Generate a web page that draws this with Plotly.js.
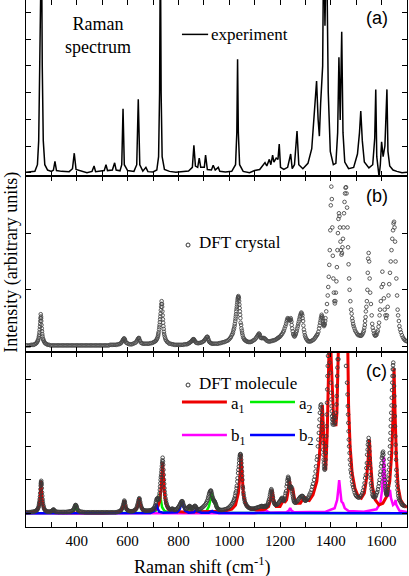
<!DOCTYPE html>
<html>
<head>
<meta charset="utf-8">
<script src="https://cdn.plot.ly/plotly-3.0.1.min.js"></script>
<style>
  html, body { margin: 0; padding: 0; background: #fff; }
  #chart { width: 409px; height: 576px; }
</style>
</head>
<body>
<div id="chart"></div>
<script>
// x axis ticks (Raman shift, cm-1)
const shiftTicks = [400, 600, 800, 1000, 1200, 1400, 1600];
const shiftLabels = ['400', '600', '800', '1000', '1200', '1400', '1600'];

// (a) experimental Raman spectrum
const expShift = [200, 215, 235, 245, 250, 254, 257, 261, 264, 268, 274, 285, 300, 308, 314, 320, 340, 370, 383, 390, 397, 420, 440, 460, 468, 474, 495, 508, 515, 521, 540, 549, 555, 570, 577, 582, 587, 600, 625, 636, 642, 648, 660, 672, 680, 700, 715, 722, 726, 729, 732, 736, 745, 765, 790, 820, 840, 855, 861, 867, 876, 882, 888, 902, 907, 914, 930, 937, 945, 957, 963, 985, 1010, 1025, 1030, 1033, 1036, 1041, 1055, 1080, 1100, 1120, 1135, 1141, 1148, 1158, 1164, 1171, 1176, 1185, 1192, 1197, 1202, 1215, 1230, 1242, 1248, 1257, 1267, 1274, 1290, 1310, 1325, 1336, 1344, 1350, 1355, 1360, 1364, 1368, 1372, 1377, 1383, 1390, 1398, 1410, 1420, 1427, 1432, 1437, 1443, 1448, 1455, 1470, 1490, 1505, 1513, 1518, 1524, 1532, 1550, 1565, 1573, 1577, 1581, 1590, 1595, 1600, 1606, 1613, 1621, 1625, 1632, 1645, 1660, 1680, 1700];
const expIntensity = [0.02, 0.03, 0.05, 0.3, 1.2, 4, 9, 9, 4, 1.2, 0.3, 0.1, 0.05, 0.1, 0.42, 0.08, 0.05, 0.04, 0.15, 0.73, 0.12, 0.05, 0, 0.05, 0.25, 0.04, 0.05, 0.08, 0.3, 0.08, 0.1, 0.37, 0.1, 0.07, 0.3, 2.39, 0.3, 0.08, 0.05, 0.3, 2.75, 0.3, 0.06, 0.2, 0.04, 0.03, 0.1, 0.6, 3, 9, 3, 0.6, 0.12, 0.05, 0.02, 0.05, 0.06, 0.2, 1.03, 0.25, 0.2, 0.55, 0.2, 0.2, 0.66, 0.12, 0.1, 0.28, 0.1, 0.2, 0.05, 0.03, 0.05, 0.3, 1.5, 4.25, 1.5, 0.3, 0.05, 0, 0.08, 0.12, 0.3, 0.38, 0.25, 0.5, 0.3, 0.66, 0.4, 0.55, 0.5, 1.07, 0.2, 0.12, 0.2, 0.7, 0.15, 0.3, 1.56, 0.3, 0.15, 0.35, 0.9, 2.2, 3.43, 2.0, 1.37, 2.6, 3.3, 4, 9, 5.5, 9, 3, 0.8, 0.3, 0.35, 1.5, 4.32, 1.97, 5.28, 1.5, 0.4, 0.15, 0.2, 0.7, 1.5, 2.31, 1.2, 0.4, 0.18, 0.3, 1.3, 3.12, 0.6, -0.15, 0.3, 1.16, 0.6, 1.0, 3.12, 0.8, 0.25, 0.1, 0.05, 0, 0.02];

// (b) DFT crystal
const crystalShift = [200, 205, 210, 215, 220, 225, 230, 234, 238, 241, 244, 246, 248, 250, 251, 252, 253, 254, 255, 256, 256.5, 257, 258, 259, 259.5, 260, 261, 262, 263, 264, 265, 267, 268, 270, 272, 275, 278, 282, 286, 291, 296, 301, 306, 311, 316, 321, 326, 331, 336, 341, 346, 351, 356, 361, 366, 371, 376, 381, 386, 391, 396, 401, 406, 411, 416, 421, 426, 431, 436, 441, 446, 451, 456, 461, 466, 471, 476, 481, 486, 491, 496, 501, 506, 511, 516, 521, 526, 531, 536, 541, 546, 551, 556, 561, 566, 570, 574, 577, 580, 582, 584, 586, 588, 589, 591, 594, 598, 602, 607, 612, 617, 622, 627, 632, 635, 638, 640, 642, 644, 645, 647, 649, 652, 656, 660, 665, 670, 675, 680, 685, 690, 695, 700, 704, 708, 711, 714, 716, 718, 720, 721, 722, 724, 725, 726, 727, 728, 729, 730, 731, 732, 733, 734, 735.5, 736, 737, 738, 739, 740, 741, 742, 743, 744, 746, 748, 750, 753, 756, 760, 764, 769, 774, 779, 784, 789, 794, 799, 804, 809, 814, 819, 824, 829, 834, 838, 842, 845, 848, 851, 853, 855, 856, 858, 859, 861, 862, 864, 866, 869, 872, 876, 880, 885, 890, 894, 898, 901, 904, 906, 908, 910, 912, 914, 915, 917, 918, 920, 922, 925, 928, 932, 936, 941, 946, 951, 956, 961, 966, 971, 976, 981, 986, 991, 996, 1000, 1004, 1007, 1010, 1013, 1015, 1017, 1019, 1021, 1022, 1024, 1025, 1026, 1027, 1028, 1029, 1030, 1031, 1032, 1033, 1034, 1035, 1036, 1037, 1038, 1039, 1040, 1041, 1042, 1043, 1044, 1045, 1047, 1048, 1050, 1051, 1053, 1055, 1058, 1060, 1063, 1066, 1069, 1072, 1076, 1080, 1084, 1088, 1092, 1096, 1100, 1104, 1107, 1110, 1113, 1115, 1117, 1119, 1121, 1123, 1126, 1128, 1131, 1134, 1137, 1140, 1143, 1146, 1150, 1154, 1158, 1162, 1166, 1170, 1174, 1178, 1182, 1186, 1189, 1192, 1195, 1198, 1201, 1204, 1208, 1212, 1215, 1218, 1221, 1224, 1226, 1228, 1230, 1232, 1234, 1236, 1238, 1240, 1242, 1243, 1245, 1246, 1248, 1250, 1252, 1254, 1256, 1258, 1260, 1262, 1264, 1266, 1268, 1270, 1272, 1274, 1276, 1278, 1280, 1282, 1284, 1286, 1288, 1289, 1291, 1292, 1294, 1296, 1298, 1300, 1303, 1306, 1309, 1312, 1316, 1320, 1324, 1328, 1332, 1336, 1339, 1342, 1345, 1348, 1351, 1354, 1356, 1358, 1360, 1361, 1363, 1364, 1366, 1367, 1369, 1370, 1372, 1373, 1375, 1376, 1378, 1379, 1382, 1385, 1388, 1390, 1392, 1394, 1396, 1398, 1400, 1402, 1404, 1406, 1408, 1410, 1412, 1414, 1416, 1418, 1420, 1422, 1424, 1426, 1428, 1430, 1432, 1434, 1436, 1438, 1440, 1442, 1444, 1446, 1448, 1450, 1452, 1454, 1456, 1458, 1460, 1462, 1464, 1466, 1468, 1470, 1472, 1474, 1477, 1480, 1482, 1484, 1486, 1488, 1490, 1493, 1496, 1500, 1504, 1508, 1512, 1516, 1519, 1522, 1525, 1528, 1530, 1532, 1534, 1535, 1537, 1538, 1540, 1542, 1544, 1545.5, 1547, 1549, 1551, 1553, 1555, 1558, 1561, 1563, 1565, 1568, 1570, 1573, 1575, 1578, 1580, 1583, 1585, 1588, 1590, 1592, 1594, 1597, 1600, 1603, 1606, 1609, 1612, 1615, 1618, 1621, 1624, 1627, 1630, 1633, 1636, 1639, 1642, 1645, 1647, 1649, 1651, 1653, 1655, 1658, 1661, 1663, 1665, 1668, 1670, 1673, 1676, 1680, 1684, 1688, 1692, 1696, 1700];
const crystalIntensity = [0.02, 0.02, 0.02, 0.02, 0.03, 0.03, 0.03, 0.04, 0.05, 0.06, 0.08, 0.1, 0.12, 0.15, 0.18, 0.21, 0.25, 0.3, 0.35, 0.4, 0.45, 0.5, 0.57, 0.53, 0.5, 0.45, 0.38, 0.32, 0.27, 0.22, 0.18, 0.14, 0.12, 0.1, 0.08, 0.06, 0.05, 0.04, 0.03, 0.03, 0.02, 0.02, 0.02, 0.02, 0.02, 0.02, 0.02, 0.02, 0.02, 0.02, 0.02, 0.02, 0.02, 0.02, 0.02, 0.02, 0.02, 0.02, 0.02, 0.02, 0.02, 0.02, 0.02, 0.02, 0.02, 0.02, 0.02, 0.02, 0.02, 0.02, 0.02, 0.02, 0.02, 0.02, 0.02, 0.02, 0.02, 0.02, 0.02, 0.02, 0.02, 0.02, 0.02, 0.02, 0.02, 0.02, 0.02, 0.03, 0.03, 0.03, 0.03, 0.03, 0.03, 0.04, 0.04, 0.05, 0.06, 0.08, 0.1, 0.12, 0.13, 0.145, 0.135, 0.12, 0.1, 0.07, 0.06, 0.05, 0.04, 0.04, 0.04, 0.05, 0.06, 0.07, 0.09, 0.11, 0.13, 0.14, 0.15, 0.15, 0.12, 0.1, 0.07, 0.06, 0.05, 0.05, 0.05, 0.05, 0.05, 0.05, 0.06, 0.06, 0.07, 0.08, 0.09, 0.1, 0.12, 0.14, 0.16, 0.19, 0.22, 0.25, 0.3, 0.34, 0.38, 0.43, 0.48, 0.53, 0.58, 0.64, 0.7, 0.75, 0.8, 0.75, 0.7, 0.62, 0.55, 0.48, 0.42, 0.36, 0.31, 0.26, 0.22, 0.18, 0.15, 0.12, 0.1, 0.08, 0.07, 0.05, 0.05, 0.04, 0.04, 0.03, 0.03, 0.03, 0.03, 0.03, 0.03, 0.03, 0.03, 0.04, 0.04, 0.04, 0.05, 0.06, 0.07, 0.08, 0.09, 0.1, 0.11, 0.12, 0.125, 0.13, 0.125, 0.12, 0.1, 0.09, 0.07, 0.065, 0.06, 0.06, 0.065, 0.07, 0.08, 0.09, 0.1, 0.12, 0.13, 0.14, 0.155, 0.17, 0.17, 0.17, 0.14, 0.12, 0.1, 0.08, 0.07, 0.06, 0.05, 0.05, 0.05, 0.05, 0.05, 0.05, 0.06, 0.06, 0.07, 0.075, 0.08, 0.09, 0.1, 0.11, 0.13, 0.15, 0.17, 0.2, 0.22, 0.25, 0.29, 0.32, 0.36, 0.4, 0.45, 0.49, 0.53, 0.57, 0.62, 0.66, 0.7, 0.74, 0.78, 0.82, 0.85, 0.87, 0.89, 0.87, 0.85, 0.8, 0.74, 0.68, 0.62, 0.56, 0.5, 0.42, 0.38, 0.32, 0.28, 0.24, 0.2, 0.16, 0.14, 0.12, 0.11, 0.1, 0.09, 0.085, 0.08, 0.08, 0.08, 0.085, 0.1, 0.11, 0.12, 0.14, 0.16, 0.18, 0.2, 0.21, 0.23, 0.22, 0.2, 0.16, 0.15, 0.15, 0.15, 0.15, 0.15, 0.14, 0.13, 0.11, 0.1, 0.09, 0.09, 0.09, 0.1, 0.1, 0.11, 0.11, 0.12, 0.13, 0.14, 0.15, 0.16, 0.17, 0.18, 0.2, 0.22, 0.25, 0.28, 0.32, 0.36, 0.4, 0.44, 0.47, 0.5, 0.49, 0.48, 0.47, 0.46, 0.48, 0.5, 0.47, 0.44, 0.38, 0.32, 0.27, 0.22, 0.2, 0.18, 0.18, 0.2, 0.22, 0.25, 0.28, 0.32, 0.36, 0.4, 0.44, 0.48, 0.52, 0.55, 0.58, 0.6, 0.58, 0.55, 0.5, 0.45, 0.37, 0.3, 0.25, 0.2, 0.17, 0.14, 0.12, 0.1, 0.09, 0.09, 0.09, 0.1, 0.11, 0.12, 0.14, 0.16, 0.18, 0.2, 0.22, 0.26, 0.32, 0.37, 0.42, 0.46, 0.5, 0.53, 0.56, 0.53, 0.5, 0.45, 0.4, 0.38, 0.36, 0.38, 0.4, 0.45, 0.5, 0.62, 0.75, 0.9, 1.05, 1.23, 1.44, 1.7, 2.05, 2.49, 2.82, 2.6, 2.1, 1.6, 1.2, 0.95, 0.8, 0.76, 0.8, 0.95, 1.15, 1.4, 1.7, 2.0, 2.25, 2.35, 2.3, 2.1, 1.85, 1.7, 1.62, 1.65, 1.75, 1.9, 2.1, 2.35, 2.55, 2.7, 2.8, 2.81, 2.7, 2.45, 2.1, 1.75, 1.45, 1.2, 1.0, 0.8, 0.65, 0.58, 0.5, 0.45, 0.4, 0.36, 0.32, 0.28, 0.25, 0.22, 0.2, 0.2, 0.19, 0.19, 0.2, 0.22, 0.25, 0.28, 0.33, 0.38, 0.45, 0.52, 0.62, 0.7, 0.8, 1.0, 1.3, 1.55, 1.65, 1.5, 1.2, 0.95, 0.75, 0.55, 0.4, 0.33, 0.28, 0.23, 0.2, 0.19, 0.2, 0.21, 0.25, 0.28, 0.35, 0.42, 0.55, 0.65, 0.8, 1.05, 1.32, 1.1, 0.85, 0.65, 0.55, 0.5, 0.55, 0.7, 0.9, 1.1, 1.3, 1.5, 1.7, 1.9, 2.05, 2.17, 2.2, 2.1, 1.85, 1.5, 1.2, 0.9, 0.65, 0.55, 0.45, 0.36, 0.3, 0.25, 0.2, 0.16, 0.13, 0.11, 0.1, 0.09, 0.08];

// (c) DFT molecule (total)
const moleculeShift = [200, 205, 210, 215, 220, 225, 230, 234, 238, 241, 244, 246, 248, 250, 251, 252, 253, 254, 255, 256, 257, 258, 258.5, 259, 260, 261, 261.5, 262, 263, 264, 265, 266, 267, 269, 270, 272, 274, 277, 280, 284, 288, 292, 296, 299, 302, 304, 306, 308, 309, 311, 312, 315, 318, 323, 328, 333, 338, 343, 348, 353, 358, 363, 368, 372, 376, 380, 384, 387, 389, 391, 392, 394, 395, 397, 398, 400, 401, 403, 406, 410, 414, 419, 424, 429, 434, 439, 444, 449, 454, 459, 464, 469, 474, 479, 484, 489, 494, 499, 504, 509, 514, 519, 524, 529, 534, 539, 544, 549, 554, 559, 564, 568, 572, 575, 578, 580, 582, 584, 585, 586, 587, 588, 589, 591, 592, 594, 596, 599, 602, 606, 610, 614, 618, 622, 626, 629, 632, 635, 637, 639, 640, 642, 643, 645, 646, 647, 649, 650, 652, 654, 656, 659, 662, 666, 670, 674, 678, 682, 686, 690, 694, 697, 700, 703, 705, 707, 709, 711, 712, 714, 715, 717, 718, 720, 721, 723, 724, 726, 727, 728, 729, 730, 731, 732, 733, 734, 735, 736, 737, 738, 739, 740, 741, 742, 743, 744, 745, 746, 748, 749, 751, 752, 754, 756, 759, 762, 765, 768, 771, 774, 776, 778, 781, 784, 787, 790, 793, 796, 799, 802, 804, 806, 808, 810, 812, 813, 815, 816, 818, 819, 821, 823, 826, 828, 831, 834, 837, 840, 842, 844, 846, 847, 849, 850, 853, 855, 858, 860, 862, 864, 866, 868, 870, 871, 873, 875, 878, 882, 886, 890, 894, 898, 902, 906, 909, 912, 915, 917, 919, 921, 923, 925, 926, 928, 929, 931, 932, 934, 935, 937, 938, 940, 941, 943, 944, 946, 948, 949, 951, 953, 955, 958, 961, 965, 969, 974, 979, 984, 989, 994, 998, 1002, 1006, 1010, 1013, 1016, 1019, 1021, 1023, 1025, 1027, 1029, 1030, 1032, 1033, 1035, 1036, 1038, 1039, 1040, 1041, 1042, 1043, 1044, 1045, 1046, 1047, 1048, 1049, 1050, 1051, 1052, 1053, 1054, 1056, 1057, 1059, 1060, 1062, 1064, 1067, 1069, 1072, 1075, 1078, 1082, 1086, 1090, 1094, 1098, 1102, 1106, 1110, 1114, 1118, 1122, 1125, 1128, 1130, 1132, 1134, 1136, 1138, 1140, 1142, 1144, 1146, 1148, 1150, 1152, 1154, 1156, 1158, 1160, 1161, 1163, 1164, 1166, 1167, 1169, 1170, 1172, 1173, 1175, 1177, 1179, 1181, 1184, 1187, 1190, 1193, 1196, 1199, 1202, 1204, 1206, 1208, 1210, 1212, 1213, 1215, 1216, 1218, 1220, 1222, 1224, 1226, 1228, 1229, 1231, 1232, 1234, 1235, 1236, 1237, 1238, 1239, 1240, 1242, 1243, 1245, 1246, 1248, 1249, 1251, 1252, 1254, 1255, 1257, 1259, 1261, 1264, 1267, 1270, 1273, 1276, 1279, 1282, 1285, 1287, 1289, 1291, 1293, 1295, 1297, 1298, 1300, 1302, 1305, 1307, 1310, 1313, 1316, 1320, 1324, 1327, 1330, 1334, 1337, 1340, 1342, 1345, 1347, 1349, 1351, 1353, 1354, 1356, 1357, 1359, 1360, 1362, 1363, 1365, 1366, 1367, 1368, 1369, 1370, 1371, 1372, 1373, 1374, 1375, 1376, 1377, 1378, 1379, 1380, 1381, 1382, 1383, 1384, 1385, 1386, 1387, 1388, 1389, 1390, 1391, 1392, 1393, 1395, 1398, 1400, 1401, 1402, 1403, 1404, 1405, 1406, 1407, 1408, 1409, 1410, 1412, 1414, 1416, 1418, 1420, 1422, 1423, 1424, 1425, 1426, 1427, 1428, 1429, 1430, 1432, 1436, 1438, 1444, 1452, 1460, 1464, 1466, 1467, 1468, 1469, 1470, 1471, 1472, 1474, 1475, 1477, 1478, 1480, 1482, 1484, 1486, 1488, 1491, 1494, 1497, 1500, 1504, 1508, 1512, 1516, 1520, 1524, 1527, 1530, 1533, 1535, 1538, 1540, 1542, 1543, 1545, 1546, 1548, 1549, 1550, 1551, 1552, 1553, 1554, 1555, 1556, 1557, 1558, 1560, 1561, 1563, 1564, 1566, 1568, 1571, 1573, 1576, 1578, 1581, 1583, 1586, 1588, 1590, 1592, 1594, 1596, 1598, 1600, 1601, 1603, 1604, 1606, 1607, 1608, 1609, 1610, 1611, 1612, 1613, 1614, 1615, 1616, 1617, 1618, 1619, 1620, 1621, 1622, 1623, 1624, 1625, 1626, 1627, 1628, 1629, 1630, 1631, 1632, 1633, 1634, 1635, 1636, 1637, 1638, 1639, 1640, 1641, 1642, 1643, 1644, 1645, 1646, 1647, 1648, 1649, 1650, 1651, 1652, 1653, 1654, 1655, 1656, 1657, 1658, 1659, 1660, 1662, 1663, 1665, 1666, 1668, 1670, 1672, 1675, 1678, 1680, 1683, 1686, 1690, 1693, 1696, 1700];
const moleculeIntensity = [0.03, 0.03, 0.03, 0.035, 0.04, 0.045, 0.05, 0.06, 0.07, 0.085, 0.1, 0.13, 0.16, 0.2, 0.25, 0.3, 0.35, 0.42, 0.5, 0.6, 0.72, 0.82, 0.88, 0.93, 0.97, 0.9, 0.85, 0.75, 0.62, 0.52, 0.42, 0.35, 0.28, 0.22, 0.17, 0.13, 0.1, 0.08, 0.06, 0.055, 0.05, 0.05, 0.05, 0.06, 0.07, 0.08, 0.1, 0.11, 0.11, 0.09, 0.07, 0.06, 0.05, 0.045, 0.04, 0.04, 0.04, 0.04, 0.04, 0.04, 0.04, 0.045, 0.05, 0.055, 0.06, 0.07, 0.09, 0.11, 0.14, 0.17, 0.2, 0.23, 0.25, 0.24, 0.22, 0.18, 0.14, 0.11, 0.08, 0.06, 0.05, 0.045, 0.04, 0.035, 0.03, 0.03, 0.03, 0.03, 0.03, 0.03, 0.03, 0.03, 0.03, 0.03, 0.03, 0.03, 0.03, 0.03, 0.03, 0.03, 0.03, 0.03, 0.03, 0.03, 0.03, 0.03, 0.03, 0.03, 0.03, 0.04, 0.05, 0.06, 0.08, 0.1, 0.14, 0.18, 0.22, 0.27, 0.3, 0.34, 0.38, 0.35, 0.32, 0.25, 0.2, 0.15, 0.12, 0.1, 0.08, 0.07, 0.06, 0.06, 0.06, 0.07, 0.08, 0.1, 0.12, 0.15, 0.2, 0.24, 0.28, 0.33, 0.38, 0.42, 0.45, 0.42, 0.35, 0.3, 0.24, 0.19, 0.15, 0.12, 0.1, 0.09, 0.08, 0.08, 0.08, 0.08, 0.085, 0.09, 0.1, 0.11, 0.12, 0.14, 0.17, 0.2, 0.24, 0.3, 0.35, 0.4, 0.43, 0.45, 0.43, 0.4, 0.42, 0.45, 0.52, 0.6, 0.7, 0.8, 0.9, 1.0, 1.08, 1.15, 1.24, 1.32, 1.41, 1.5, 1.58, 1.66, 1.55, 1.45, 1.3, 1.15, 1.0, 0.88, 0.75, 0.65, 0.55, 0.45, 0.38, 0.32, 0.27, 0.22, 0.18, 0.15, 0.13, 0.12, 0.12, 0.13, 0.14, 0.13, 0.12, 0.1, 0.1, 0.11, 0.12, 0.15, 0.18, 0.2, 0.23, 0.26, 0.29, 0.32, 0.34, 0.36, 0.36, 0.35, 0.31, 0.27, 0.23, 0.2, 0.16, 0.14, 0.14, 0.14, 0.17, 0.19, 0.2, 0.22, 0.21, 0.18, 0.17, 0.15, 0.15, 0.15, 0.17, 0.18, 0.2, 0.22, 0.22, 0.2, 0.18, 0.15, 0.13, 0.12, 0.12, 0.12, 0.13, 0.15, 0.17, 0.2, 0.23, 0.26, 0.3, 0.35, 0.4, 0.46, 0.52, 0.58, 0.62, 0.65, 0.67, 0.68, 0.65, 0.6, 0.55, 0.5, 0.46, 0.42, 0.4, 0.38, 0.36, 0.35, 0.33, 0.3, 0.26, 0.22, 0.19, 0.16, 0.14, 0.12, 0.11, 0.1, 0.1, 0.1, 0.11, 0.12, 0.13, 0.15, 0.17, 0.2, 0.23, 0.27, 0.3, 0.35, 0.4, 0.45, 0.52, 0.6, 0.65, 0.75, 0.82, 0.95, 1.05, 1.2, 1.3, 1.4, 1.5, 1.6, 1.66, 1.72, 1.75, 1.77, 1.75, 1.7, 1.6, 1.5, 1.38, 1.25, 1.12, 1.0, 0.8, 0.75, 0.62, 0.55, 0.46, 0.4, 0.33, 0.3, 0.26, 0.22, 0.2, 0.18, 0.16, 0.15, 0.14, 0.14, 0.14, 0.14, 0.15, 0.16, 0.17, 0.18, 0.19, 0.2, 0.21, 0.22, 0.21, 0.2, 0.2, 0.2, 0.21, 0.22, 0.21, 0.2, 0.21, 0.22, 0.25, 0.28, 0.33, 0.38, 0.43, 0.5, 0.56, 0.62, 0.67, 0.72, 0.68, 0.62, 0.55, 0.48, 0.4, 0.35, 0.31, 0.28, 0.26, 0.25, 0.26, 0.27, 0.3, 0.33, 0.36, 0.39, 0.42, 0.44, 0.46, 0.43, 0.4, 0.38, 0.38, 0.41, 0.45, 0.52, 0.6, 0.66, 0.8, 0.88, 0.98, 1.04, 1.09, 1.05, 1.0, 0.93, 0.85, 0.78, 0.76, 0.77, 0.78, 0.8, 0.78, 0.72, 0.65, 0.58, 0.51, 0.45, 0.4, 0.36, 0.33, 0.32, 0.32, 0.33, 0.35, 0.38, 0.42, 0.45, 0.48, 0.5, 0.51, 0.52, 0.51, 0.5, 0.46, 0.42, 0.4, 0.38, 0.38, 0.38, 0.4, 0.42, 0.46, 0.5, 0.56, 0.62, 0.7, 0.8, 0.88, 1.0, 1.1, 1.25, 1.4, 1.6, 1.7, 2.0, 2.2, 2.4, 2.6, 2.8, 3.0, 3.15, 3.22, 3.25, 3.1, 2.95, 2.7, 2.5, 2.3, 2.1, 1.9, 1.75, 1.6, 1.5, 1.4, 1.33, 1.3, 1.35, 1.45, 1.6, 1.8, 2.0, 2.3, 2.6, 2.95, 3.3, 3.7, 4.1, 4.4, 4.7, 5.1, 5.5, 5.6, 4.8, 4.5, 4.2, 3.9, 3.6, 3.4, 3.2, 3.05, 2.9, 2.8, 2.7, 2.65, 2.8, 2.95, 2.85, 2.65, 2.7, 2.85, 3.0, 3.25, 3.5, 3.8, 4.1, 4.35, 4.6, 5.2, 5.5, 4.6, 5.1, 5.2, 5.5, 5.8, 4.9, 4.4, 3.9, 3.55, 3.2, 2.95, 2.7, 2.45, 2.2, 2.0, 1.8, 1.6, 1.45, 1.3, 1.2, 1.08, 0.95, 0.85, 0.78, 0.7, 0.62, 0.56, 0.52, 0.49, 0.47, 0.47, 0.5, 0.54, 0.6, 0.68, 0.78, 0.9, 1.05, 1.15, 1.35, 1.5, 1.75, 1.9, 2.05, 2.15, 2.25, 2.15, 2.0, 1.85, 1.65, 1.5, 1.35, 1.15, 1.05, 0.9, 0.82, 0.72, 0.65, 0.56, 0.52, 0.49, 0.48, 0.48, 0.5, 0.54, 0.6, 0.64, 0.72, 0.8, 0.9, 1.0, 1.15, 1.25, 1.4, 1.5, 1.65, 1.72, 1.8, 1.84, 1.75, 1.6, 1.42, 1.25, 1.1, 1.0, 0.9, 0.8, 0.74, 0.68, 0.64, 0.6, 0.57, 0.55, 0.56, 0.6, 0.65, 0.72, 0.8, 0.9, 1.02, 1.15, 1.3, 1.45, 1.62, 1.8, 2.0, 2.2, 2.4, 2.6, 2.8, 3.0, 3.22, 3.45, 3.68, 3.9, 4.1, 4.3, 4.42, 4.5, 4.3, 4.1, 3.8, 3.5, 3.2, 2.9, 2.6, 2.3, 2.05, 1.8, 1.6, 1.3, 1.12, 0.95, 0.82, 0.7, 0.6, 0.52, 0.45, 0.4, 0.38, 0.33, 0.3, 0.26, 0.25, 0.23, 0.22];

// (c) symmetry components
const a1Shift = [200, 230, 245, 252, 256, 259, 262, 266, 273, 290, 320, 400, 500, 560, 575, 582, 587, 592, 600, 620, 632, 640, 646, 652, 660, 680, 700, 715, 726, 732, 738, 744, 750, 760, 780, 820, 900, 980, 1010, 1025, 1036, 1042, 1046, 1050, 1056, 1066, 1085, 1110, 1140, 1155, 1163, 1169, 1175, 1185, 1200, 1208, 1213, 1218, 1226, 1232, 1237, 1242, 1247, 1250, 1256, 1266, 1280, 1290, 1296, 1302, 1315, 1330, 1345, 1355, 1361, 1367, 1373, 1380, 1386, 1391, 1396, 1402, 1408, 1412, 1416, 1420, 1424, 1428, 1433, 1440, 1450, 1458, 1465, 1470, 1476, 1484, 1495, 1508, 1520, 1532, 1541, 1547, 1552, 1557, 1564, 1575, 1590, 1605, 1620, 1632, 1640, 1645, 1649, 1653, 1658, 1665, 1675, 1690, 1700];
const a1Intensity = [0.02, 0.04, 0.1, 0.25, 0.55, 0.97, 0.55, 0.25, 0.1, 0.04, 0.02, 0.01, 0.01, 0.03, 0.08, 0.2, 0.38, 0.2, 0.08, 0.06, 0.1, 0.22, 0.45, 0.22, 0.08, 0.05, 0.08, 0.14, 0.35, 0.75, 1.52, 0.7, 0.3, 0.12, 0.06, 0.04, 0.04, 0.06, 0.12, 0.25, 0.6, 1.1, 1.77, 1.1, 0.55, 0.25, 0.12, 0.1, 0.12, 0.2, 0.4, 0.7, 0.4, 0.2, 0.2, 0.32, 0.45, 0.32, 0.4, 0.65, 1.0, 0.75, 0.72, 0.76, 0.48, 0.3, 0.3, 0.42, 0.5, 0.4, 0.38, 0.55, 0.95, 1.7, 2.6, 3.23, 2.1, 1.29, 2.4, 4.3, 6, 4.5, 3.0, 2.65, 2.95, 2.6, 3.0, 4.3, 6, 5.5, 5.2, 5.6, 6, 3.2, 2.0, 1.2, 0.75, 0.5, 0.45, 0.6, 1.05, 1.6, 2.21, 1.5, 0.8, 0.4, 0.25, 0.3, 0.5, 0.95, 1.8, 2.9, 4.33, 3.0, 1.7, 0.8, 0.4, 0.22, 0.18];
const a2Shift = [200, 380, 388, 393, 396, 399, 404, 412, 690, 710, 720, 725, 728, 731, 736, 745, 760, 785, 795, 800, 836, 842, 846, 850, 858, 910, 920, 926, 931, 936, 942, 947, 952, 962, 985, 1100, 1700];
const a2Intensity = [0, 0.01, 0.06, 0.15, 0.25, 0.15, 0.06, 0.01, 0.02, 0.07, 0.2, 0.4, 0.62, 0.4, 0.18, 0.07, 0.03, 0.03, 0.06, 0.03, 0.03, 0.1, 0.2, 0.1, 0.05, 0.06, 0.2, 0.4, 0.6, 0.42, 0.3, 0.3, 0.18, 0.06, 0.02, 0.01, 0];
const b1Shift = [200, 1100, 1125, 1135, 1142, 1150, 1160, 1225, 1235, 1240, 1245, 1255, 1380, 1415, 1425, 1430, 1433, 1437, 1442, 1448, 1455, 1470, 1530, 1580, 1595, 1602, 1606, 1609, 1612, 1617, 1625, 1630, 1633, 1637, 1645, 1652, 1655, 1658, 1670, 1700];
const b1Intensity = [0, 0, 0.03, 0.08, 0.1, 0.06, 0.02, 0.03, 0.08, 0.16, 0.08, 0.03, 0.05, 0.15, 0.4, 0.75, 0.99, 0.7, 0.35, 0.3, 0.15, 0.07, 0.05, 0.12, 0.3, 0.7, 1.3, 1.69, 1.2, 0.6, 0.5, 0.62, 0.7, 0.45, 0.25, 0.3, 0.4, 0.25, 0.08, 0.04];
const b2Shift = [200, 690, 704, 710, 714, 718, 724, 740, 795, 805, 811, 815, 819, 826, 840, 862, 868, 872, 876, 890, 920, 928, 933, 938, 960, 1700];
const b2Intensity = [0, 0.01, 0.06, 0.16, 0.28, 0.15, 0.05, 0.02, 0.03, 0.12, 0.25, 0.35, 0.22, 0.08, 0.02, 0.03, 0.1, 0.14, 0.06, 0.02, 0.02, 0.05, 0.07, 0.04, 0.01, 0];

const serif = 'Liberation Serif';
const sans = 'Liberation Sans';

const axisBase = {
  showline: true,
  linecolor: '#000',
  linewidth: 1,
  mirror: 'ticks',
  ticks: 'inside',
  ticklen: 5,
  tickwidth: 1,
  tickcolor: '#000',
  showgrid: false,
  zeroline: false,
  fixedrange: true,
};

const xBase = {
  ...axisBase,
  range: [200, 1700],
  tickmode: 'array',
  tickvals: shiftTicks,
  ticktext: shiftLabels,
  minor: { dtick: 100, tick0: 0, ticks: 'inside', ticklen: 5, tickwidth: 1, tickcolor: '#000', showgrid: false },
};

function circles(x, y, xa, ya, color) {
  return {
    type: 'scatter', mode: 'markers', x, y, xaxis: xa, yaxis: ya,
    marker: { symbol: 'circle-open', size: 3.6, color, line: { width: 0.9, color } },
    hoverinfo: 'skip',
  };
}

function line(x, y, color, width, xa, ya) {
  return {
    type: 'scatter', mode: 'lines', x, y, xaxis: xa, yaxis: ya,
    line: { color, width },
    hoverinfo: 'skip',
  };
}

const traces = [
  line(expShift, expIntensity, '#000', 1.5, 'x3', 'y3'),
  circles(crystalShift, crystalIntensity, 'x2', 'y2', '#4a4a4a'),
  line(a2Shift, a2Intensity, '#00ee00', 2.5, 'x', 'y'),
  line(b1Shift, b1Intensity, '#ff00ff', 2.5, 'x', 'y'),
  line(a1Shift, a1Intensity, '#ee0000', 3, 'x', 'y'),
  line(b2Shift, b2Intensity, '#0000ff', 2.5, 'x', 'y'),
  circles(moleculeShift, moleculeIntensity, 'x', 'y', '#3a3a3a'),
];

function label(text, x, y, xref, yref, size, family, xanchor) {
  return { text, x, y, xref, yref, showarrow: false, xanchor: xanchor || 'center', yanchor: 'middle', font: { size, family, color: '#000' } };
}

const annotations = [
  label('(a)', 1582, 5.79, 'x3', 'y3', 18, sans),
  label('(b)', 1582, 2.65, 'x2', 'y2', 18, sans),
  label('(c)', 1578, 4.26, 'x', 'y', 18, sans),
  label('Raman<br>spectrum', 483, 5.12, 'x3', 'y3', 18, serif),
  label('experiment', 922, 5.18, 'x3', 'y3', 17, serif, 'left'),
  label('DFT crystal', 875, 1.83, 'x2', 'y2', 17, serif, 'left'),
  label('DFT molecule', 875, 3.89, 'x', 'y', 17, serif, 'left'),
  label('a<sub>1</sub>', 1001, 3.22, 'x', 'y', 17, serif, 'left'),
  label('a<sub>2</sub>', 1265, 3.22, 'x', 'y', 17, serif, 'left'),
  label('b<sub>1</sub>', 1001, 2.28, 'x', 'y', 17, serif, 'left'),
  label('b<sub>2</sub>', 1265, 2.28, 'x', 'y', 17, serif, 'left'),
  { text: 'Raman shift (cm<sup>-1</sup>)', x: 893, y: -0.074, xref: 'x', yref: 'paper', showarrow: false, xanchor: 'center', yanchor: 'middle', font: { size: 18, family: serif, color: '#000' } },
  { text: 'Intensity (arbitrary units)', x: -0.037, y: 0.503, xref: 'paper', yref: 'paper', textangle: -90, showarrow: false, xanchor: 'center', yanchor: 'middle', font: { size: 18, family: serif, color: '#000' } },
];

function sample(x0, x1, y, color, width, xref, yref) {
  return { type: 'line', x0, x1, y0: y, y1: y, xref, yref, line: { color, width } };
}

function ring(x, y, xref, yref) {
  return { type: 'circle', xref, yref, xsizemode: 'pixel', ysizemode: 'pixel', xanchor: x, yanchor: y, x0: -2, x1: 2, y0: -2, y1: 2, line: { color: '#333', width: 1 } };
}

const shapes = [
  sample(814, 917, 5.18, '#000', 1.5, 'x3', 'y3'),
  ring(838, 1.79, 'x2', 'y2'),
  ring(838, 3.83, 'x', 'y'),
  sample(814, 991, 3.32, '#ee0000', 3, 'x', 'y'),
  sample(1082, 1259, 3.32, '#00ee00', 2.5, 'x', 'y'),
  sample(814, 991, 2.34, '#ff00ff', 2.5, 'x', 'y'),
  sample(1082, 1259, 2.34, '#0000ff', 2.5, 'x', 'y'),
];

const layout = {
  width: 409,
  height: 576,
  margin: { l: 26, r: 2, t: 0, b: 49 },
  paper_bgcolor: '#fff',
  plot_bgcolor: '#fff',
  showlegend: false,
  font: { family: serif, color: '#000' },
  xaxis: { ...xBase, anchor: 'y', tickfont: { size: 15, family: serif, color: '#000' } },
  xaxis2: { ...xBase, anchor: 'y2', matches: 'x', showticklabels: false },
  xaxis3: { ...xBase, anchor: 'y3', matches: 'x', showticklabels: false },
  yaxis: { ...axisBase, domain: [0, 0.332], range: [-0.409, 4.815], tickvals: [0, 1, 2, 3, 4], showticklabels: false },
  yaxis2: { ...axisBase, domain: [0.332, 0.666], range: [-0.097, 3.007], tickvals: [0, 1, 2, 3], showticklabels: false },
  yaxis3: { ...axisBase, domain: [0.666, 1], range: [-0.124, 6.468], tickvals: [0, 1, 2, 3, 4, 5, 6], showticklabels: false },
  annotations,
  shapes,
};

Plotly.newPlot('chart', traces, layout, { displayModeBar: false, staticPlot: true });
</script>
</body>
</html>
